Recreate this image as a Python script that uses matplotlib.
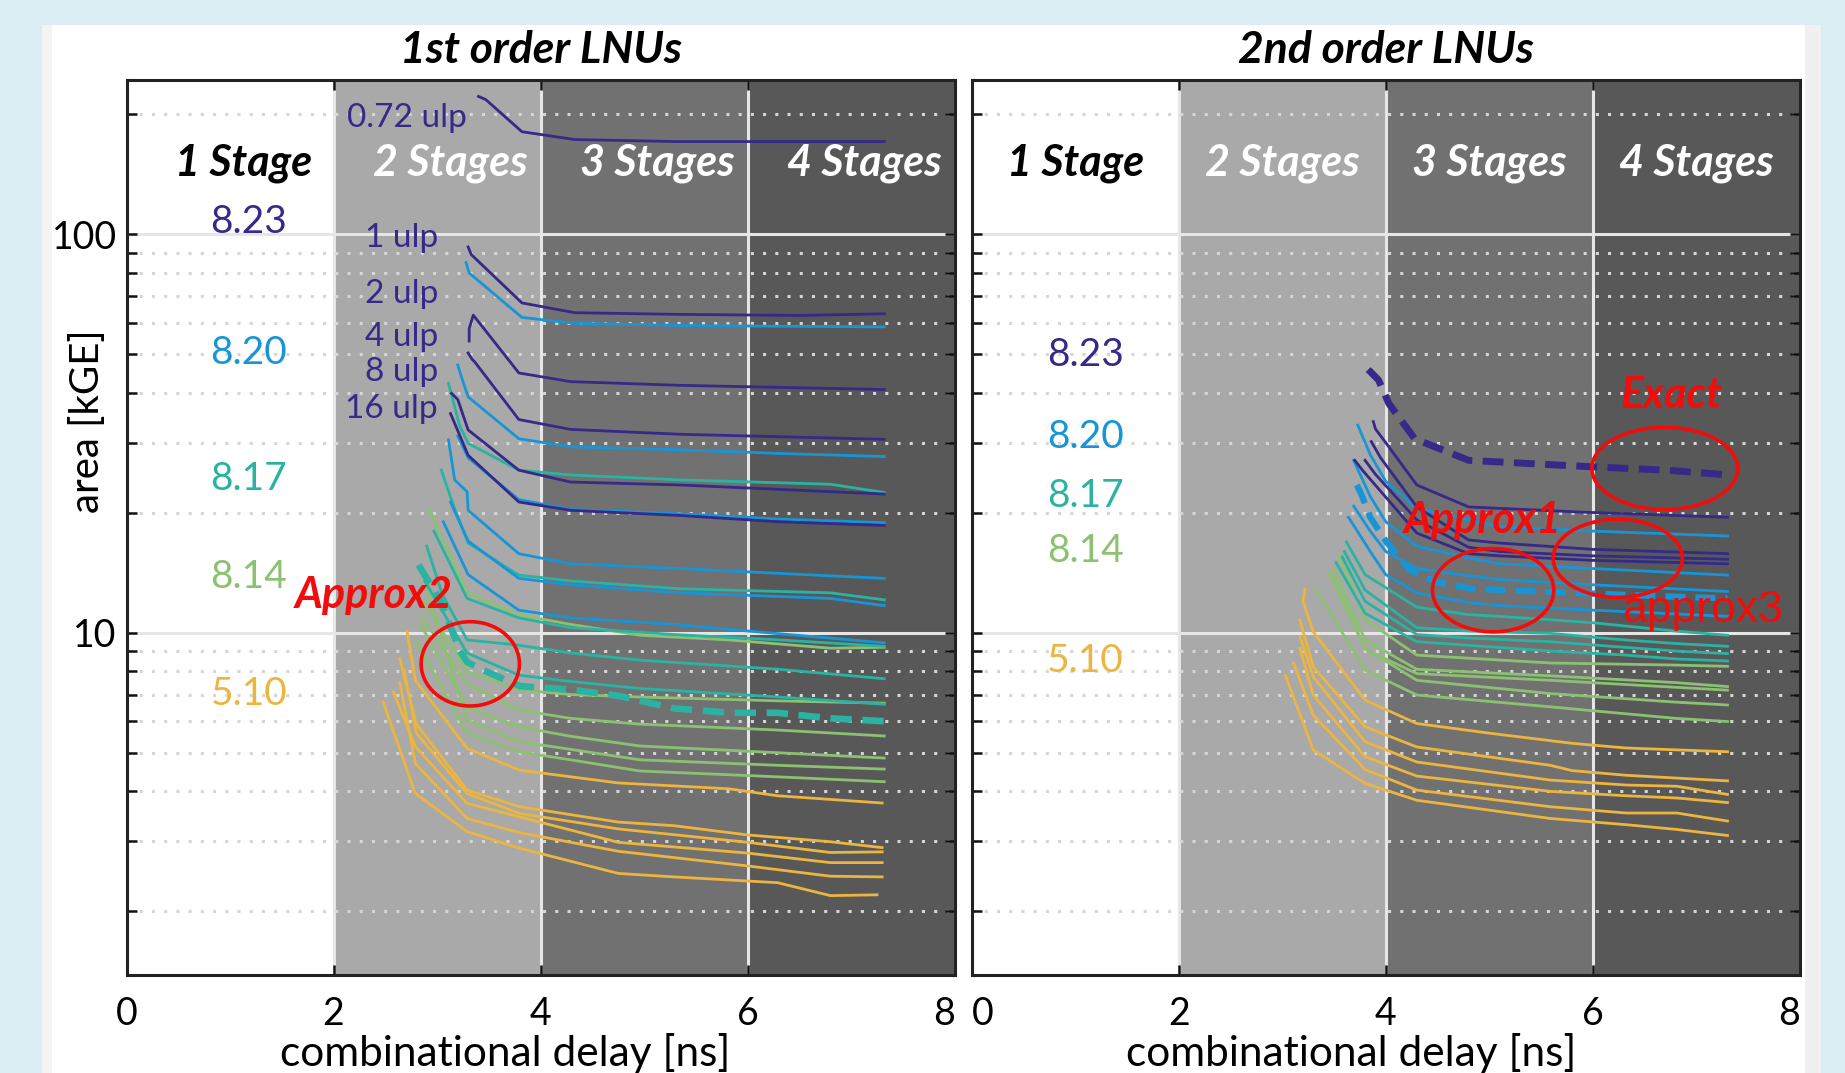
import matplotlib
matplotlib.use("Agg")
import matplotlib.pyplot as plt
import numpy as np
from matplotlib.patches import Ellipse, Rectangle
from matplotlib.ticker import FixedLocator, LogLocator, NullFormatter

plt.rcParams["font.family"] = ["Lato", "DejaVu Sans"]

COND = ["Liberation Sans Narrow", "Lato", "DejaVu Sans"]
ARIAL = ["Liberation Sans", "DejaVu Sans"]

PURPLE = "#352a87"
BLUE = "#1895d7"
TEAL = "#2ab3a2"
GREEN = "#8cc172"
YELLOW = "#ebb53f"
RED = "#f20c0c"

# ---- data: (combinational delay [ns], area [kGE]) per curve ----
STAGE_EDGES = [0, 2, 4, 6, 8]
STAGE_NAMES = ["1 Stage", "2 Stages", "3 Stages", "4 Stages"]
GROUP_NAMES = ["8.23", "8.20", "8.17", "8.14", "5.10"]
ULP_NAMES = ["0.72 ulp", "1 ulp", "2 ulp", "4 ulp", "8 ulp", "16 ulp"]

# 1st order LNUs
L1_PURPLE = [
    ([3.40, 3.47, 3.82, 4.33, 5.31, 7.32], [222, 218, 181, 173, 171, 171]),
    ([3.30, 3.33, 3.82, 4.33, 5.31, 6.50, 7.32], [93, 89, 67.3, 63.6, 63.0, 62.6, 63.2]),
    ([3.31, 3.31, 3.35, 3.79, 4.29, 5.35, 7.32], [54.0, 58.0, 62.7, 44.9, 42.7, 41.8, 40.8]),
    ([3.30, 3.34, 3.36, 3.79, 4.29, 5.35, 7.32], [50.4, 48.5, 48.0, 34.3, 32.4, 31.5, 30.6]),
    ([3.14, 3.20, 3.30, 3.79, 4.29, 5.35, 7.32], [39.9, 38.5, 32.3, 25.6, 23.9, 23.5, 22.3]),
    ([3.13, 3.30, 3.79, 4.29, 5.35, 6.30, 7.32], [35.5, 27.9, 21.3, 20.3, 19.7, 19.0, 18.6]),
]
L1_BLUE = [
    ([3.28, 3.31, 3.82, 4.33, 5.50, 7.32], [85.0, 80.0, 61.9, 59.8, 59.0, 58.6]),
    ([3.20, 3.24, 3.30, 3.79, 4.29, 5.35, 6.30, 7.32], [47.0, 43.5, 39.1, 30.7, 29.3, 28.8, 28.2, 27.7]),
    ([3.20, 3.30, 3.79, 4.29, 5.35, 6.30, 7.32], [31.2, 27.5, 21.6, 20.4, 19.9, 19.3, 18.9]),
    ([3.11, 3.17, 3.29, 3.30, 3.79, 4.29, 5.35, 6.30, 7.32], [30.5, 24.2, 22.6, 20.3, 15.8, 14.9, 14.5, 14.1, 13.7]),
    ([3.13, 3.30, 3.79, 4.29, 5.35, 6.80, 7.32], [21.3, 17.0, 13.7, 13.2, 12.6, 12.2, 11.7]),
    ([3.06, 3.30, 3.79, 4.29, 5.29, 5.82, 6.80, 7.32], [19.0, 14.0, 11.4, 10.9, 10.5, 10.2, 9.7, 9.44]),
]
L1_TEAL = [
    ([3.11, 3.22, 3.30, 3.79, 4.29, 5.35, 6.80, 7.32], [42.3, 33.0, 29.9, 25.6, 24.9, 24.2, 23.6, 22.5]),
    ([3.04, 3.17, 3.30, 3.79, 4.29, 5.35, 6.80, 7.32], [25.6, 20.5, 16.8, 13.96, 13.5, 12.9, 12.6, 12.1]),
    ([2.97, 3.29, 3.79, 4.29, 5.30, 6.30, 7.32], [18.0, 12.2, 10.9, 10.3, 9.9, 9.6, 9.25]),
    ([2.90, 3.05, 3.29, 3.79, 4.29, 4.96, 6.30, 7.32], [16.5, 12.5, 9.6, 9.31, 8.9, 8.54, 8.1, 7.67]),
    ([2.88, 3.29, 3.79, 4.29, 4.96, 6.30, 7.32], [13.5, 8.9, 7.83, 7.55, 7.25, 6.9, 6.62]),
]
L1_GREEN = [
    ([2.93, 3.29, 3.79, 4.29, 4.96, 5.82, 6.80, 7.32], [20.3, 12.6, 11.1, 10.5, 9.86, 9.6, 9.15, 9.2]),
    ([2.87, 3.29, 3.79, 4.29, 4.96, 6.30, 7.32], [12.0, 8.0, 7.2, 7.0, 6.9, 6.75, 6.66]),
    ([2.85, 3.29, 3.79, 4.29, 4.96, 6.30, 7.32], [11.0, 7.46, 6.4, 6.1, 5.9, 5.7, 5.51]),
    ([2.84, 3.29, 3.79, 4.29, 4.96, 6.30, 7.32], [10.5, 6.5, 5.81, 5.5, 5.2, 5.0, 4.85]),
    ([2.88, 3.29, 3.79, 4.29, 4.96, 6.30, 7.32], [13.5, 6.04, 5.33, 5.1, 4.8, 4.65, 4.55]),
    ([2.80, 3.29, 3.79, 4.29, 4.96, 6.30, 7.32], [9.5, 5.6, 5.03, 4.8, 4.5, 4.35, 4.23]),
]
L1_YELLOW = [
    ([2.71, 2.79, 3.29, 3.80, 4.75, 5.82, 6.29, 7.30], [10.1, 7.6, 5.13, 4.52, 4.20, 4.06, 3.90, 3.74]),
    ([2.64, 2.80, 3.29, 3.80, 4.75, 5.29, 6.00, 6.80, 7.30], [8.6, 5.9, 4.03, 3.66, 3.35, 3.28, 3.11, 2.99, 2.89]),
    ([2.68, 2.80, 3.29, 3.80, 4.75, 6.00, 6.80, 7.30], [8.1, 5.6, 3.95, 3.52, 3.22, 2.98, 2.81, 2.82]),
    ([2.58, 2.79, 3.29, 3.80, 4.75, 6.00, 6.80, 7.30], [7.1, 5.18, 3.73, 3.45, 2.98, 2.80, 2.65, 2.65]),
    ([2.64, 2.79, 3.29, 3.80, 4.75, 6.00, 6.80, 7.30], [7.5, 4.70, 3.42, 3.15, 2.83, 2.60, 2.45, 2.44]),
    ([2.48, 2.79, 3.29, 3.80, 4.75, 5.29, 6.29, 6.80, 7.25], [6.7, 3.95, 3.17, 2.88, 2.49, 2.44, 2.36, 2.19, 2.20]),
]
L1_APPROX2 = ([2.82, 3.03, 3.22, 3.29, 3.45, 3.80, 4.29, 4.75, 5.29, 5.82, 6.29, 6.80, 7.32],
              [14.8, 12.1, 9.0, 8.45, 8.05, 7.35, 7.2, 6.95, 6.46, 6.3, 6.3, 6.1, 6.0])

# 2nd order LNUs
L2_PURPLE = [
    ([3.88, 3.90, 4.00, 4.30, 4.80, 5.87, 7.30], [33.9, 32.5, 30.0, 23.5, 20.7, 20.1, 19.5]),
    ([3.86, 3.95, 4.30, 4.80, 5.10, 6.00, 7.30], [30.2, 27.5, 20.7, 17.1, 16.8, 16.2, 15.8]),
    ([3.80, 3.90, 4.30, 4.80, 5.10, 6.00, 7.30], [27.1, 25.0, 19.2, 16.4, 16.0, 15.6, 15.3]),
    ([3.70, 3.78, 4.30, 4.80, 5.10, 6.00, 7.30], [27.1, 25.5, 17.8, 15.8, 15.6, 15.2, 14.9]),
]
L2_BLUE = [
    ([3.73, 3.85, 4.00, 4.30, 4.81, 5.10, 6.00, 7.30], [33.2, 28.0, 24.0, 20.5, 19.2, 18.45, 18.0, 17.5]),
    ([3.69, 3.85, 4.00, 4.30, 4.81, 5.10, 6.00, 7.30], [27.1, 22.0, 19.0, 16.5, 15.4, 14.9, 14.5, 13.96]),
    ([3.69, 3.85, 4.00, 4.30, 4.81, 5.10, 6.00, 7.30], [20.8, 18.0, 16.0, 14.5, 13.9, 13.6, 13.2, 12.7]),
    ([3.64, 3.85, 4.00, 4.30, 4.81, 5.10, 6.00, 7.30], [19.5, 16.0, 14.0, 12.6, 11.9, 11.7, 11.4, 11.0]),
]
L2_TEAL = [
    ([3.62, 3.80, 4.30, 4.81, 5.10, 6.00, 6.80, 7.30], [16.9, 14.0, 11.6, 11.1, 11.0, 10.6, 10.1, 9.86]),
    ([3.60, 3.80, 4.30, 4.81, 5.59, 6.30, 6.80, 7.30], [16.0, 12.8, 10.3, 10.1, 9.97, 9.6, 9.4, 9.25]),
    ([3.58, 3.80, 4.30, 4.81, 5.59, 6.30, 6.80, 7.30], [15.5, 12.0, 9.9, 9.7, 9.5, 9.2, 9.0, 8.87]),
    ([3.52, 3.80, 4.30, 4.81, 5.59, 6.30, 6.80, 7.30], [15.0, 11.2, 9.5, 9.3, 9.0, 8.8, 8.6, 8.5]),
]
L2_GREEN = [
    ([3.55, 3.80, 4.30, 5.59, 6.80, 7.30], [15.7, 10.8, 8.79, 8.4, 8.3, 8.24]),
    ([3.50, 3.80, 4.30, 5.59, 6.80, 7.30], [14.5, 9.6, 8.1, 7.8, 7.5, 7.33]),
    ([3.45, 3.80, 4.30, 5.59, 6.80, 7.30], [14.2, 9.1, 7.9, 7.6, 7.3, 7.18]),
    ([3.48, 3.80, 4.30, 5.59, 6.80, 7.30], [14.0, 9.14, 7.6, 7.04, 6.7, 6.59]),
    ([3.33, 3.80, 4.30, 5.59, 6.80, 7.30], [12.8, 8.06, 6.98, 6.52, 6.1, 5.99]),
]
L2_YELLOW = [
    ([3.22, 3.20, 3.30, 3.80, 4.30, 5.00, 5.80, 6.32, 7.30], [12.85, 12.0, 10.06, 6.78, 5.92, 5.6, 5.28, 5.14, 5.03]),
    ([3.17, 3.30, 3.80, 4.30, 5.59, 5.80, 6.32, 7.30], [10.76, 8.22, 5.81, 5.17, 4.65, 4.51, 4.39, 4.25]),
    ([3.17, 3.30, 3.80, 4.30, 5.59, 6.32, 6.81, 7.30], [9.8, 7.76, 5.33, 4.74, 4.27, 4.15, 4.12, 3.93]),
    ([3.17, 3.30, 3.80, 4.30, 5.59, 6.32, 6.81, 7.30], [9.14, 6.98, 4.89, 4.37, 4.0, 3.9, 3.85, 3.75]),
    ([3.11, 3.30, 3.80, 4.30, 5.59, 6.32, 6.81, 7.30], [8.38, 6.21, 4.54, 4.03, 3.66, 3.53, 3.53, 3.37]),
    ([3.03, 3.30, 3.80, 4.30, 5.59, 6.32, 6.81, 7.30], [7.83, 5.08, 4.19, 3.80, 3.42, 3.30, 3.21, 3.10]),
]
L2_EXACT = ([3.83, 3.93, 4.03, 4.28, 4.80, 5.50, 6.00, 6.71, 7.32],
            [45.8, 43.1, 37.6, 30.7, 27.1, 26.5, 26.1, 25.6, 24.9])
L2_APPROX1 = ([3.72, 3.76, 3.85, 4.00, 4.23, 4.49, 4.84, 5.46, 5.81, 6.50, 7.30],
              [23.5, 22.4, 19.5, 17.0, 14.4, 13.4, 12.9, 12.7, 12.6, 12.4, 12.2])

YLIM = (1.384, 244)
GROUP_COLORS = [PURPLE, BLUE, TEAL, GREEN, YELLOW]
SHADES = ["#ffffff", "#a9a9a9", "#717171", "#585858"]


def setup_axes(ax, show_ylabels):
    for (a, b), shade in zip(zip(STAGE_EDGES[:-1], STAGE_EDGES[1:]), SHADES):
        ax.axvspan(a, b, color=shade, lw=0, zorder=0)
    ax.set_xlim(0, 8)
    ax.set_yscale("log")
    ax.set_ylim(*YLIM)
    ax.xaxis.set_major_locator(FixedLocator(STAGE_EDGES))
    ax.yaxis.set_major_locator(FixedLocator([10, 100]))
    ax.yaxis.set_minor_locator(LogLocator(base=10, subs=np.arange(2, 10), numticks=20))
    ax.yaxis.set_minor_formatter(NullFormatter())
    ax.set_yticklabels(["10", "100"])
    ax.yaxis.grid(True, which="minor", color="#d6d6d6", ls=(0, (1, 3.0)), lw=2.2)
    ax.yaxis.grid(True, which="major", color="#e6e6e6", ls="-", lw=2.2)
    ax.xaxis.grid(True, which="major", color="#e6e6e6", ls="-", lw=2.2)
    ax.tick_params(which="both", direction="in", top=True, right=True,
                   length=7, width=1.8, color="#111111", labelsize=27)
    ax.tick_params(axis="x", pad=15)
    ax.tick_params(axis="y", pad=7, labelleft=show_ylabels)
    for s in ax.spines.values():
        s.set_linewidth(2.2)
        s.set_color("#222222")


def draw_curves(ax, groups):
    for curves, color in groups:
        for xs, ys in curves:
            ax.plot(xs, ys, color=color, lw=2.0, zorder=2, solid_joinstyle="round")


fig = plt.figure(figsize=(18.45, 10.73), dpi=100, facecolor="#daedf3")
fig.add_artist(Rectangle((0.0225, 0), 0.956, 0.9767, transform=fig.transFigure,
                         facecolor="white", edgecolor="none", zorder=-10))
fig.add_artist(Rectangle((0.0225, 0), 0.0058, 0.9767, transform=fig.transFigure,
                         facecolor="#f4f4f4", edgecolor="none", zorder=-9))
fig.add_artist(Rectangle((0.9783, 0), 0.0086, 0.9767, transform=fig.transFigure,
                         facecolor="#f0f0f0", edgecolor="none", zorder=-9))

ax1 = fig.add_axes([0.0686, 0.0913, 0.4488, 0.8341])
ax2 = fig.add_axes([0.5266, 0.0913, 0.4490, 0.8341])
setup_axes(ax1, True)
setup_axes(ax2, False)

draw_curves(ax1, [(L1_YELLOW, YELLOW), (L1_GREEN, GREEN), (L1_TEAL, TEAL),
                  (L1_BLUE, BLUE), (L1_PURPLE, PURPLE)])
ax1.plot(*L1_APPROX2, color=TEAL, lw=4.8, ls=(0, (3.2, 1.6)), zorder=3)

draw_curves(ax2, [(L2_YELLOW, YELLOW), (L2_GREEN, GREEN), (L2_TEAL, TEAL),
                  (L2_BLUE, BLUE), (L2_PURPLE, PURPLE)])
ax2.plot(*L2_APPROX1, color=BLUE, lw=4.5, ls=(0, (3.2, 1.6)), zorder=3)
ax2.plot(*L2_EXACT, color=PURPLE, lw=5.0, ls=(0, (3.0, 1.5)), zorder=3)

# titles and stage names
for ax, title, off in [(ax1, "1st order LNUs", 1.13), (ax2, "2nd order LNUs", 1.0)]:
    ax.text(0.5, 1.019, title, transform=ax.transAxes, ha="center", va="baseline",
            family=COND, weight="bold", style="italic", fontsize=32)
    for i, name in enumerate(STAGE_NAMES):
        ax.text(STAGE_EDGES[i] + off, 0.893, name, transform=ax.get_xaxis_transform(),
                ha="center", va="baseline", family=COND, weight="bold", style="italic",
                fontsize=31, color="black" if i == 0 else "white", zorder=4)

# group labels
for ax, gx, gy in [(ax1, 1.18, [0.829, 0.683, 0.542, 0.433, 0.302]),
                   (ax2, 1.10, [0.681, 0.589, 0.523, 0.462, 0.339])]:
    for name, color, y in zip(GROUP_NAMES, GROUP_COLORS, gy):
        ax.text(gx, y, name, transform=ax.get_xaxis_transform(), ha="center",
                va="baseline", color=color, fontsize=28, zorder=4)

# ulp labels
for name, x, y in zip(ULP_NAMES, [3.29, 3.01, 3.01, 3.01, 3.01, 3.01],
                      [0.948, 0.813, 0.751, 0.703, 0.664, 0.622]):
    ax1.text(x, y, name, transform=ax1.get_xaxis_transform(), ha="right",
             va="baseline", color=PURPLE, fontsize=24, zorder=4)

# annotations
red_kw = dict(family=COND, weight="bold", style="italic", color=RED, fontsize=31,
              ha="center", va="baseline", zorder=6)
ax1.text(0.298, 0.410, "Approx2", transform=ax1.transAxes, **red_kw)
ax2.text(0.844, 0.6334, "Exact", transform=ax2.transAxes, **red_kw)
ax2.text(0.6175, 0.4935, "Approx1", transform=ax2.transAxes, **red_kw)
ax2.text(0.8824, 0.395, "approx3", transform=ax2.transAxes, family=ARIAL,
         color=RED, fontsize=32, ha="center", va="baseline", zorder=6)

for ax, cx, cy, w, h in [(ax1, 0.4151, 0.3477, 0.1187, 0.0942),
                         (ax2, 0.8368, 0.5661, 0.176, 0.0917),
                         (ax2, 0.780, 0.4656, 0.156, 0.0872),
                         (ax2, 0.6296, 0.430, 0.1464, 0.0931)]:
    ax.add_patch(Ellipse((cx, cy), w, h, transform=ax.transAxes, fill=False,
                         ec=RED, lw=2.6, zorder=5))

fig.text(0.0472, 0.6076, "area [kGE]", rotation=90, ha="center", va="center", fontsize=29)
fig.text(0.2738, 0.0065, "combinational delay [ns]", ha="center", va="baseline", fontsize=30.5)
fig.text(0.7321, 0.0065, "combinational delay [ns]", ha="center", va="baseline", fontsize=30.5)

# end tick labels sit inside the panel edges, as in the original
fig.canvas.draw()
ax1.get_xticklabels()[-1].set_horizontalalignment("right")
ax2.get_xticklabels()[0].set_horizontalalignment("left")
ax2.get_xticklabels()[-1].set_horizontalalignment("right")

fig.savefig("out.png", dpi=100, facecolor=fig.get_facecolor())
